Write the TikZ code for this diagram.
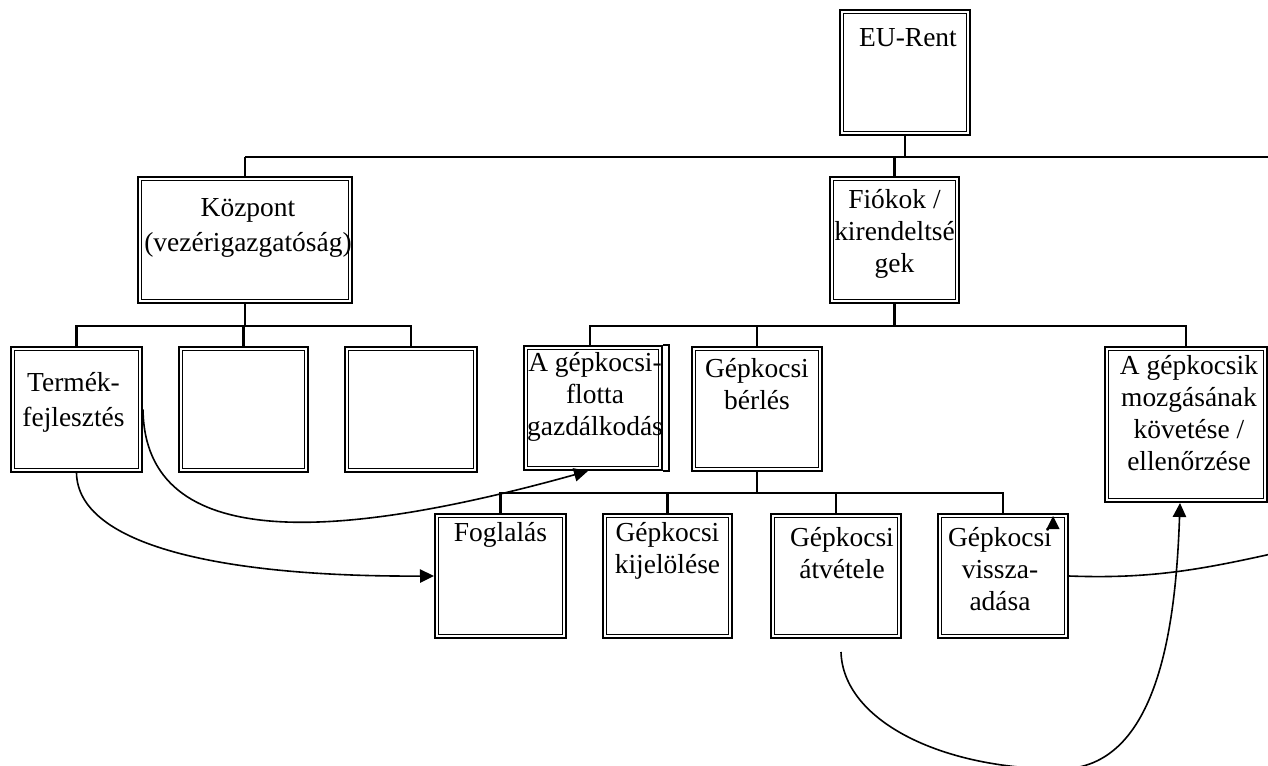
\documentclass[tikz,border=0pt]{standalone}
\usepackage{fontspec}
\setmainfont{Liberation Serif}
\usetikzlibrary{arrows.meta,calc}

\begin{document}
\begin{tikzpicture}[x=0.75pt,y=-0.75pt,
  box/.style 2 args={rectangle, draw, line width=1.5pt, fill=white, inner sep=0pt,
    minimum width=#1*0.75pt, minimum height=#2*0.75pt,
    path picture={\draw[line width=0.8pt]
      ([shift={(2.6pt,-2.6pt)}]path picture bounding box.north west) rectangle
      ([shift={(-2.6pt,2.6pt)}]path picture bounding box.south east);}},
  lbl/.style={anchor=north, inner sep=0pt, align=center,
    font=\fontsize{20.6}{24}\selectfont},
  lblwide/.style={lbl, font=\fontsize{20.6}{26.25}\selectfont},
  tree/.style={line width=1.6pt},
  link/.style={line width=1.2pt, -{Triangle[length=10.5pt,width=10pt]}},
  wire/.style={line width=1.2pt}
]
\useasboundingbox (0,0) rectangle (1268,765);
\fill[white] (0,0) rectangle (1268,765);
\clip (0,0) rectangle (1268,765);

% organisation boxes
\node[box={130}{125}] (eu) at (905,72.5) {};
\node[box={214}{126}] (kozpont) at (245,240) {};
\node[box={129}{126}] (fiokok) at (894.5,240) {};
\node[box={131}{125}] (termek) at (76.5,409.5) {};
\node[box={129}{125}] (ures1) at (243.5,409.5) {};
\node[box={132}{125}] (ures2) at (411,409.5) {};
\node[box={138}{124}] (flotta) at (593,408) {};
\node[box={130}{124}] (berles) at (757,409) {};
\node[box={162}{155}] (kovetes) at (1186,424.5) {};
\node[box={131}{124}] (foglalas) at (500.5,576) {};
\node[box={129}{124}] (kijeloles) at (667.5,576) {};
\node[box={130}{124}] (atvetel) at (836,576) {};
\node[box={130}{124}] (visszaadas) at (1003,576) {};

% extra frame on the fleet box
\draw[line width=0.8pt] (flotta.north east) -- ++(6,0) |- (flotta.south east);

% box texts
\node[lbl] (eu-t) at ($(eu.north)+(3,14.6)$) {\strut EU-Rent};
\node[lblwide] (kozpont-t) at ($(kozpont.north)+(3,15.5)$) {\strut Központ\\(vezérigazgatóság)};
\node[lbl] (fiokok-t) at ($(fiokok.north)+(0,9.6)$) {\strut Fiókok /\\kirendeltsé\\gek};
\node[lblwide] (termek-t) at ($(termek.north)+(-3,20.5)$) {\strut Termék-\\fejlesztés};
\node[lbl] (flotta-t) at ($(flotta.north)+(2,3.6)$) {\strut A gépkocsi-\\flotta\\gazdálkodás};
\node[lbl] (berles-t) at ($(berles.north)+(0,8.6)$) {\strut Gépkocsi\\bérlés};
\node[lbl] (kovetes-t) at ($(kovetes.north)+(3,5.6)$) {\strut A gépkocsik\\mozgásának\\követése /\\ellenőrzése};
\node[lbl] (foglalas-t) at ($(foglalas.north)+(0,5.6)$) {\strut Foglalás};
\node[lbl] (kijeloles-t) at ($(kijeloles.north)+(0,5.6)$) {\strut Gépkocsi\\kijelölése};
\node[lbl] (atvetel-t) at ($(atvetel.north)+(6,10.6)$) {\strut Gépkocsi\\átvétele};
\node[lbl] (visszaadas-t) at ($(visszaadas.north)+(-3,10.6)$) {\strut Gépkocsi\\vissza-\\adása};

% hierarchy lines
\coordinate (busA) at (245,157);
\coordinate (busAend) at (1268,157);
\draw[tree] (busA) -- (busAend);
\draw[line width=2.2pt] (eu.south) -- (eu.south |- busA);
\draw[tree] (kozpont.north) -- (kozpont.north |- busA);
\draw[tree] (fiokok.north) -- (fiokok.north |- busA);

\coordinate (busB) at (245,326);
\draw[tree] (kozpont.south) -- (busB);
\draw[tree] (termek.north) |- (busB) -| (ures2.north);
\draw[tree] (ures1.north) -- (ures1.north |- busB);

\coordinate (busC) at (894.5,326);
\draw[tree] (fiokok.south) -- (busC);
\draw[tree] ([xshift=-2.25pt]flotta.north) |- (busC) -| (kovetes.north);
\draw[tree] (berles.north) -- (berles.north |- busC);

\coordinate (busD) at (757,493);
\draw[tree] (berles.south) -- (busD);
\draw[tree] (foglalas.north) |- (busD) -| (visszaadas.north);
\draw[tree] (kijeloles.north) -- (kijeloles.north |- busD);
\draw[tree] (atvetel.north) -- (atvetel.north |- busD);

% process links
\draw[link] (termek.east) .. controls (145,555) and (340,540) .. ([xshift=-3.75pt]flotta.south);
\draw[link] (termek.south) .. controls (78,545) and (220,577) .. (foglalas.west);

\coordinate (atvStart) at ($(atvetel.south)+(5,13)$);
\coordinate (hurok) at (1060,769);
\draw[link] (atvStart) .. controls (843,720) and (940,769) .. (hurok)
  .. controls (1160,769) and (1176,620) .. ($(kovetes.south)+(-6,0)$);

\coordinate (kiut) at (1280,552);
\draw[wire] (visszaadas.east) .. controls (1150,579) and (1200,570) .. (kiut);
\fill (visszaadas.north east) ++(-16,3) -- ++(6.5,13) -- ++(-13,0) -- cycle;
\end{tikzpicture}
\end{document}
